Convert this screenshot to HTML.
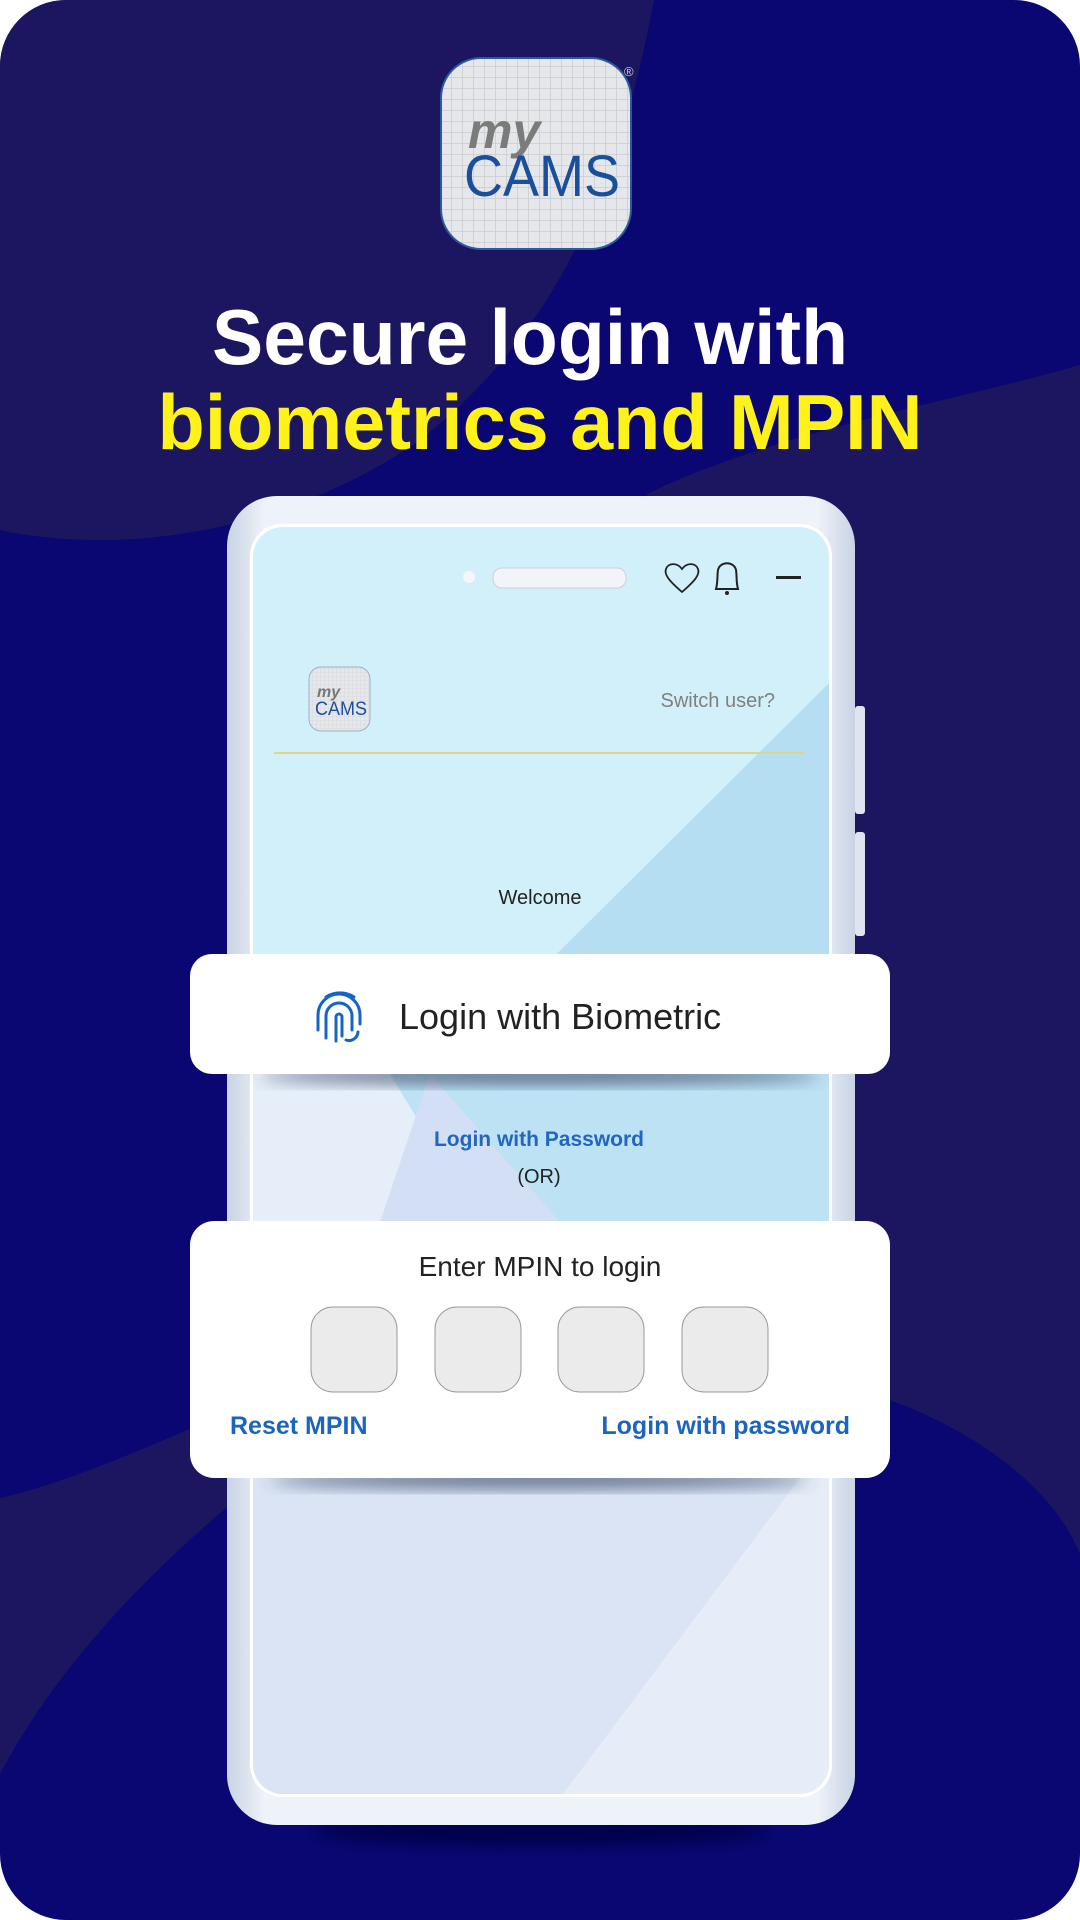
<!DOCTYPE html>
<html><head><meta charset="utf-8"><style>
html,body{margin:0;padding:0;background:#fff;}
body{width:1080px;height:1920px;overflow:hidden;}
svg{display:block}
</style></head><body>
<svg width="1080" height="1920" viewBox="0 0 1080 1920" xmlns="http://www.w3.org/2000/svg" font-family="'Liberation Sans', sans-serif">
<defs>
<clipPath id="bg"><rect x="0" y="0" width="1080" height="1920" rx="66"/></clipPath>
<clipPath id="scr"><rect x="253" y="527" width="576" height="1267" rx="30"/></clipPath>
<pattern id="grid" width="11" height="11" patternUnits="userSpaceOnUse"><rect width="11" height="11" fill="#e6e7ea"/><path d="M0 0H11M0 0V11" stroke="#c9cbd0" stroke-width="1.5"/></pattern>
<pattern id="grid2" width="4" height="4" patternUnits="userSpaceOnUse"><rect width="4" height="4" fill="#e6e7ea"/><path d="M0 0H4M0 0V4" stroke="#cdd0d5" stroke-width="0.6"/></pattern>
<filter id="sh" x="-20%" y="-20%" width="140%" height="160%"><feGaussianBlur stdDeviation="8"/></filter>
<linearGradient id="frame" x1="0" x2="1"><stop offset="0" stop-color="#c9d3e4"/><stop offset="0.06" stop-color="#eef2f9"/><stop offset="0.94" stop-color="#eef2f9"/><stop offset="1" stop-color="#c9d3e4"/></linearGradient>
</defs>
<g clip-path="url(#bg)">
<rect width="1080" height="1920" fill="#0a0773"/>
<path d="M0 0 H654 C620 180 560 330 420 440 C320 510 200 540 100 540 C60 540 20 535 0 530 Z" fill="#1c1660"/>
<path d="M1080 365 C960 400 780 430 647 494 L860 1390 C960 1420 1050 1480 1080 1554 Z" fill="#1c1660"/>
<path d="M0 1498 C80 1480 160 1440 260 1400 L260 1480 C160 1560 60 1660 0 1774 Z" fill="#1c1660"/>
</g>
<!-- logo -->
<rect x="441" y="58" width="190" height="191" rx="40" fill="url(#grid)" stroke="#2a5aa0" stroke-width="2"/>
<text x="468" y="148" font-size="50" font-weight="bold" font-style="italic" fill="#7b7b7b">my</text>
<text x="464" y="196" font-size="58" fill="#1a4f9c" textLength="156" lengthAdjust="spacingAndGlyphs">CAMS</text>
<text x="624" y="76" font-size="13" fill="#ccc">®</text>
<!-- title -->
<text x="530" y="364" text-anchor="middle" font-size="78" font-weight="bold" fill="#ffffff" textLength="636" lengthAdjust="spacingAndGlyphs">Secure login with</text>
<text x="540" y="449" text-anchor="middle" font-size="78" font-weight="bold" fill="#fff21a" textLength="765" lengthAdjust="spacingAndGlyphs">biometrics and MPIN</text>
<!-- phone -->
<ellipse cx="541" cy="1832" rx="230" ry="14" fill="#03024a" filter="url(#sh)"/>
<rect x="855" y="706" width="10" height="108" rx="3" fill="#dfe5ef"/>
<rect x="855" y="832" width="10" height="104" rx="3" fill="#dfe5ef"/>
<rect x="227" y="496" width="628" height="1329" rx="50" fill="url(#frame)"/>
<rect x="250" y="524" width="582" height="1273" rx="32" fill="#ffffff"/>
<g clip-path="url(#scr)">
<rect x="253" y="527" width="576" height="1267" fill="#d2f0f9"/>
<path d="M829 683 L400 1110 L829 1110 Z" fill="#b6def2"/>
<rect x="253" y="1074" width="576" height="148" fill="#bce2f4"/>
<path d="M253 1074 H390 L480 1222 H253 Z" fill="#e6eefa"/>
<path d="M430 1074 L560 1222 H380 Z" fill="#d2dff4"/>
<rect x="253" y="1478" width="576" height="320" fill="#dae4f5"/>
<path d="M829 1478 H800 L560 1798 H829 Z" fill="#e6edf8"/>
</g>
<!-- status bar -->
<circle cx="469" cy="577" r="6" fill="#f4f6f9"/>
<rect x="493" y="568" width="133" height="20" rx="9" fill="#f2f4f8" stroke="#c9d1dc"/>
<path d="M682 592 C668 580 664 574 666 569 C668 563 677 562 682 569 C687 562 696 563 698 569 C700 574 696 580 682 592 Z" fill="none" stroke="#222" stroke-width="1.8"/>
<path d="M716 589 C718 582 717 576 718 570 C720 561 734 561 736 570 C737 576 736 582 738 589 Z" fill="none" stroke="#222" stroke-width="2"/>
<circle cx="727" cy="593" r="2" fill="#222"/>
<rect x="776" y="576" width="25" height="3" fill="#222"/>
<!-- small logo -->
<rect x="309" y="667" width="61" height="64" rx="12" fill="url(#grid2)" stroke="#9bb0cc"/>
<text x="317" y="697" font-size="16" font-weight="bold" font-style="italic" fill="#777">my</text>
<text x="315" y="715" font-size="19" fill="#1a4f9c" textLength="52" lengthAdjust="spacingAndGlyphs">CAMS</text>
<text x="775" y="707" text-anchor="end" font-size="20" fill="#808080">Switch user?</text>
<rect x="274" y="752" width="531" height="2" fill="#dcd58a"/>
<text x="540" y="904" text-anchor="middle" font-size="20" fill="#222">Welcome</text>
<!-- biometric card -->
<ellipse cx="540" cy="1076" rx="280" ry="8" fill="#3a4a66" filter="url(#sh)" opacity="0.8"/>
<rect x="190" y="954" width="700" height="120" rx="22" fill="#ffffff"/>
<g fill="none" stroke="#1565c8" stroke-width="3" stroke-linecap="round">
<path d="M326 997 A26 26 0 0 1 354 997"/>
<path d="M318 1030 V1015 A21 21 0 0 1 360 1015 V1024"/>
<path d="M326 1038 V1016 A13 13 0 0 1 352 1016 V1030"/>
<path d="M336 1041 V1017 A3 3 0 0 1 342 1017 V1036"/>
<path d="M346 1040 A9 9 0 0 0 358 1032"/>
</g>
<text x="399" y="1029" font-size="36" fill="#222">Login with Biometric</text>
<text x="539" y="1146" text-anchor="middle" font-size="21" font-weight="bold" fill="#2266c0">Login with Password</text>
<text x="539" y="1183" text-anchor="middle" font-size="20" fill="#222">(OR)</text>
<!-- MPIN card -->
<ellipse cx="540" cy="1480" rx="270" ry="8" fill="#3a4a66" filter="url(#sh)" opacity="0.8"/>
<rect x="190" y="1221" width="700" height="257" rx="24" fill="#ffffff"/>
<text x="540" y="1276" text-anchor="middle" font-size="28" fill="#222">Enter MPIN to login</text>
<rect x="311" y="1307" width="86" height="85" rx="22" fill="#ebebeb" stroke="#9a9a9a"/>
<rect x="435" y="1307" width="86" height="85" rx="22" fill="#ebebeb" stroke="#9a9a9a"/>
<rect x="558" y="1307" width="86" height="85" rx="22" fill="#ebebeb" stroke="#9a9a9a"/>
<rect x="682" y="1307" width="86" height="85" rx="22" fill="#ebebeb" stroke="#9a9a9a"/>
<text x="230" y="1434" font-size="25" font-weight="bold" fill="#1b64bf">Reset MPIN</text>
<text x="850" y="1434" text-anchor="end" font-size="25" font-weight="bold" fill="#1b64bf">Login with password</text>
</svg>
</body></html>
